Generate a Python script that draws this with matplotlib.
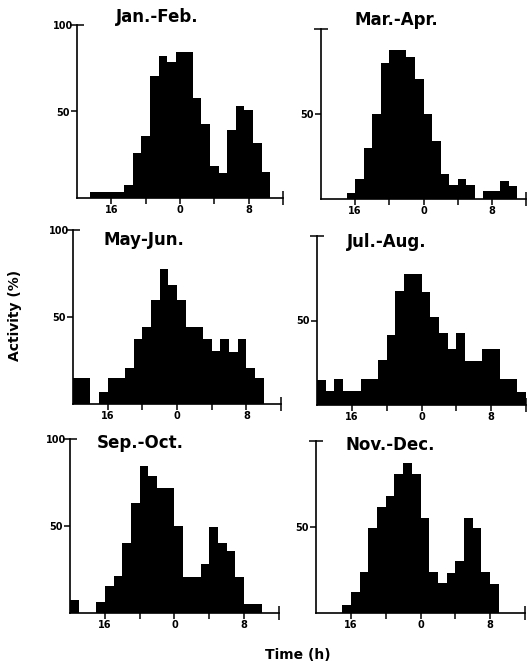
import numpy as np
import matplotlib
matplotlib.use("Agg")
import matplotlib.pyplot as plt
from matplotlib.ticker import FixedLocator, FixedFormatter

W, H = 527, 668

# hourly bins, 12 h (noon) through 35 h (11 h next day)
hours = np.arange(12, 36)

jan_feb = [0, 0, 3.5, 3.5, 3.5, 3.5, 7.3, 26, 36, 70.6, 82, 78.5,
           84.6, 84.6, 57.7, 43, 18.7, 14.4, 39.4, 53, 50.6, 32, 14.8, 0]
mar_apr = [0, 0, 0, 3.7, 12, 30, 50, 80, 87.5, 87.5, 83.5, 70.8,
           50, 34, 14.6, 8, 11.5, 8, 0, 4.7, 4.7, 10.7, 7.8, 0]
may_jun = [14.8, 14.8, 0, 7.1, 14.8, 14.8, 20.9, 37.2, 44, 60, 77.6, 68.4,
           60, 44, 44, 37.2, 30.5, 37.2, 30, 37.2, 20.5, 14.8, 0, 0]
jul_aug = [14.6, 8, 15.4, 8.4, 8.4, 15.6, 15.6, 26.4, 41.6, 67.4, 77.4, 77.4,
           67, 52, 42.4, 33.4, 42.6, 26, 26, 33.4, 33.4, 15.4, 15.4, 7.4]
sep_oct = [7.3, 0, 0, 6.3, 15.5, 21, 40.3, 63.5, 84.5, 78.7, 71.6, 71.6,
           50, 20.7, 20.7, 28, 49.5, 40.3, 35.7, 20.7, 5.4, 5.4, 0, 0]
nov_dec = [0, 0, 0, 4.8, 12.4, 23.9, 49.6, 61.5, 68.3, 81, 87.4, 80.7,
           55, 23.9, 17.2, 23.5, 30.2, 55, 49.6, 23.9, 16.8, 0, 0, 0]

titles = ["Jan.-Feb.", "Mar.-Apr.", "May-Jun.", "Jul.-Aug.", "Sep.-Oct.", "Nov.-Dec."]
series = [jan_feb, mar_apr, may_jun, jul_aug, sep_oct, nov_dec]
shifts = [-0.5, 0, 0, 0, 0, 0]

# panel boxes in pixels: x of y-axis, x of axis end, y of baseline, y of 100
boxes = [(77, 283, 198, 25), (321, 526, 199, 29),
         (73, 281, 404, 230), (317, 526, 405, 236),
         (70, 279, 613, 439), (316, 525, 613, 441)]
# title centre x and baseline y (pixels)
title_pos = [(157, 21.5), (396, 25), (144, 245), (387, 247), (140, 448), (390, 450)]

FONT = "DejaVu Sans"
fig = plt.figure(figsize=(W / 100, H / 100), dpi=100)

for i, (name, vals) in enumerate(zip(titles, series)):
    x0, x1, yb, yt = boxes[i]
    ax = fig.add_axes([x0 / W, (H - yb) / H, (x1 - x0) / W, (yb - yt) / H])
    edges = np.append(hours, hours[-1] + 1) + shifts[i]
    ax.stairs(vals, edges, fill=True, color="black", linewidth=0)
    ax.set_xlim(12, 36)
    ax.set_ylim(0, 100)
    for s in ["top", "right"]:
        ax.spines[s].set_visible(False)
    for s in ["left", "bottom"]:
        ax.spines[s].set_linewidth(1.2)

    ax.xaxis.set_major_locator(FixedLocator([16, 20, 24, 28, 32]))
    ax.xaxis.set_major_formatter(FixedFormatter(["16", "", "0", "", "8"]))
    ax.xaxis.set_minor_locator(FixedLocator([36]))
    ax.yaxis.set_major_locator(FixedLocator([50]))
    ax.yaxis.set_major_formatter(FixedFormatter(["50"]))
    ax.yaxis.set_minor_locator(FixedLocator([100]))
    if i % 2 == 0:
        ax.yaxis.set_minor_formatter(FixedFormatter(["100"]))

    ax.tick_params(which="major", direction="out", length=4.5, width=1.1,
                   labelsize=7, pad=1)
    ax.tick_params(which="minor", direction="inout", length=10, width=1.1,
                   labelsize=7, pad=-2)
    ax.tick_params(axis="x", which="major", pad=0.5)
    for lab in ax.get_xticklabels() + ax.get_yticklabels() + ax.get_yticklabels(minor=True):
        lab.set_fontweight("bold")
        lab.set_family(FONT)

    tx, ty = title_pos[i]
    fig.text(tx / W, 1 - ty / H, name, ha="center", va="baseline",
             fontsize=12, fontweight="bold", family=FONT)

fig.text(15 / W, 1 - 315 / H, "Activity (%)", rotation=90, ha="center",
         va="center", fontsize=10, fontweight="bold", family=FONT)
fig.text(298 / W, 1 - 655 / H, "Time (h)", ha="center", va="center",
         fontsize=10, fontweight="bold", family=FONT)

fig.savefig("out.png", dpi=100)
plt.close(fig)
